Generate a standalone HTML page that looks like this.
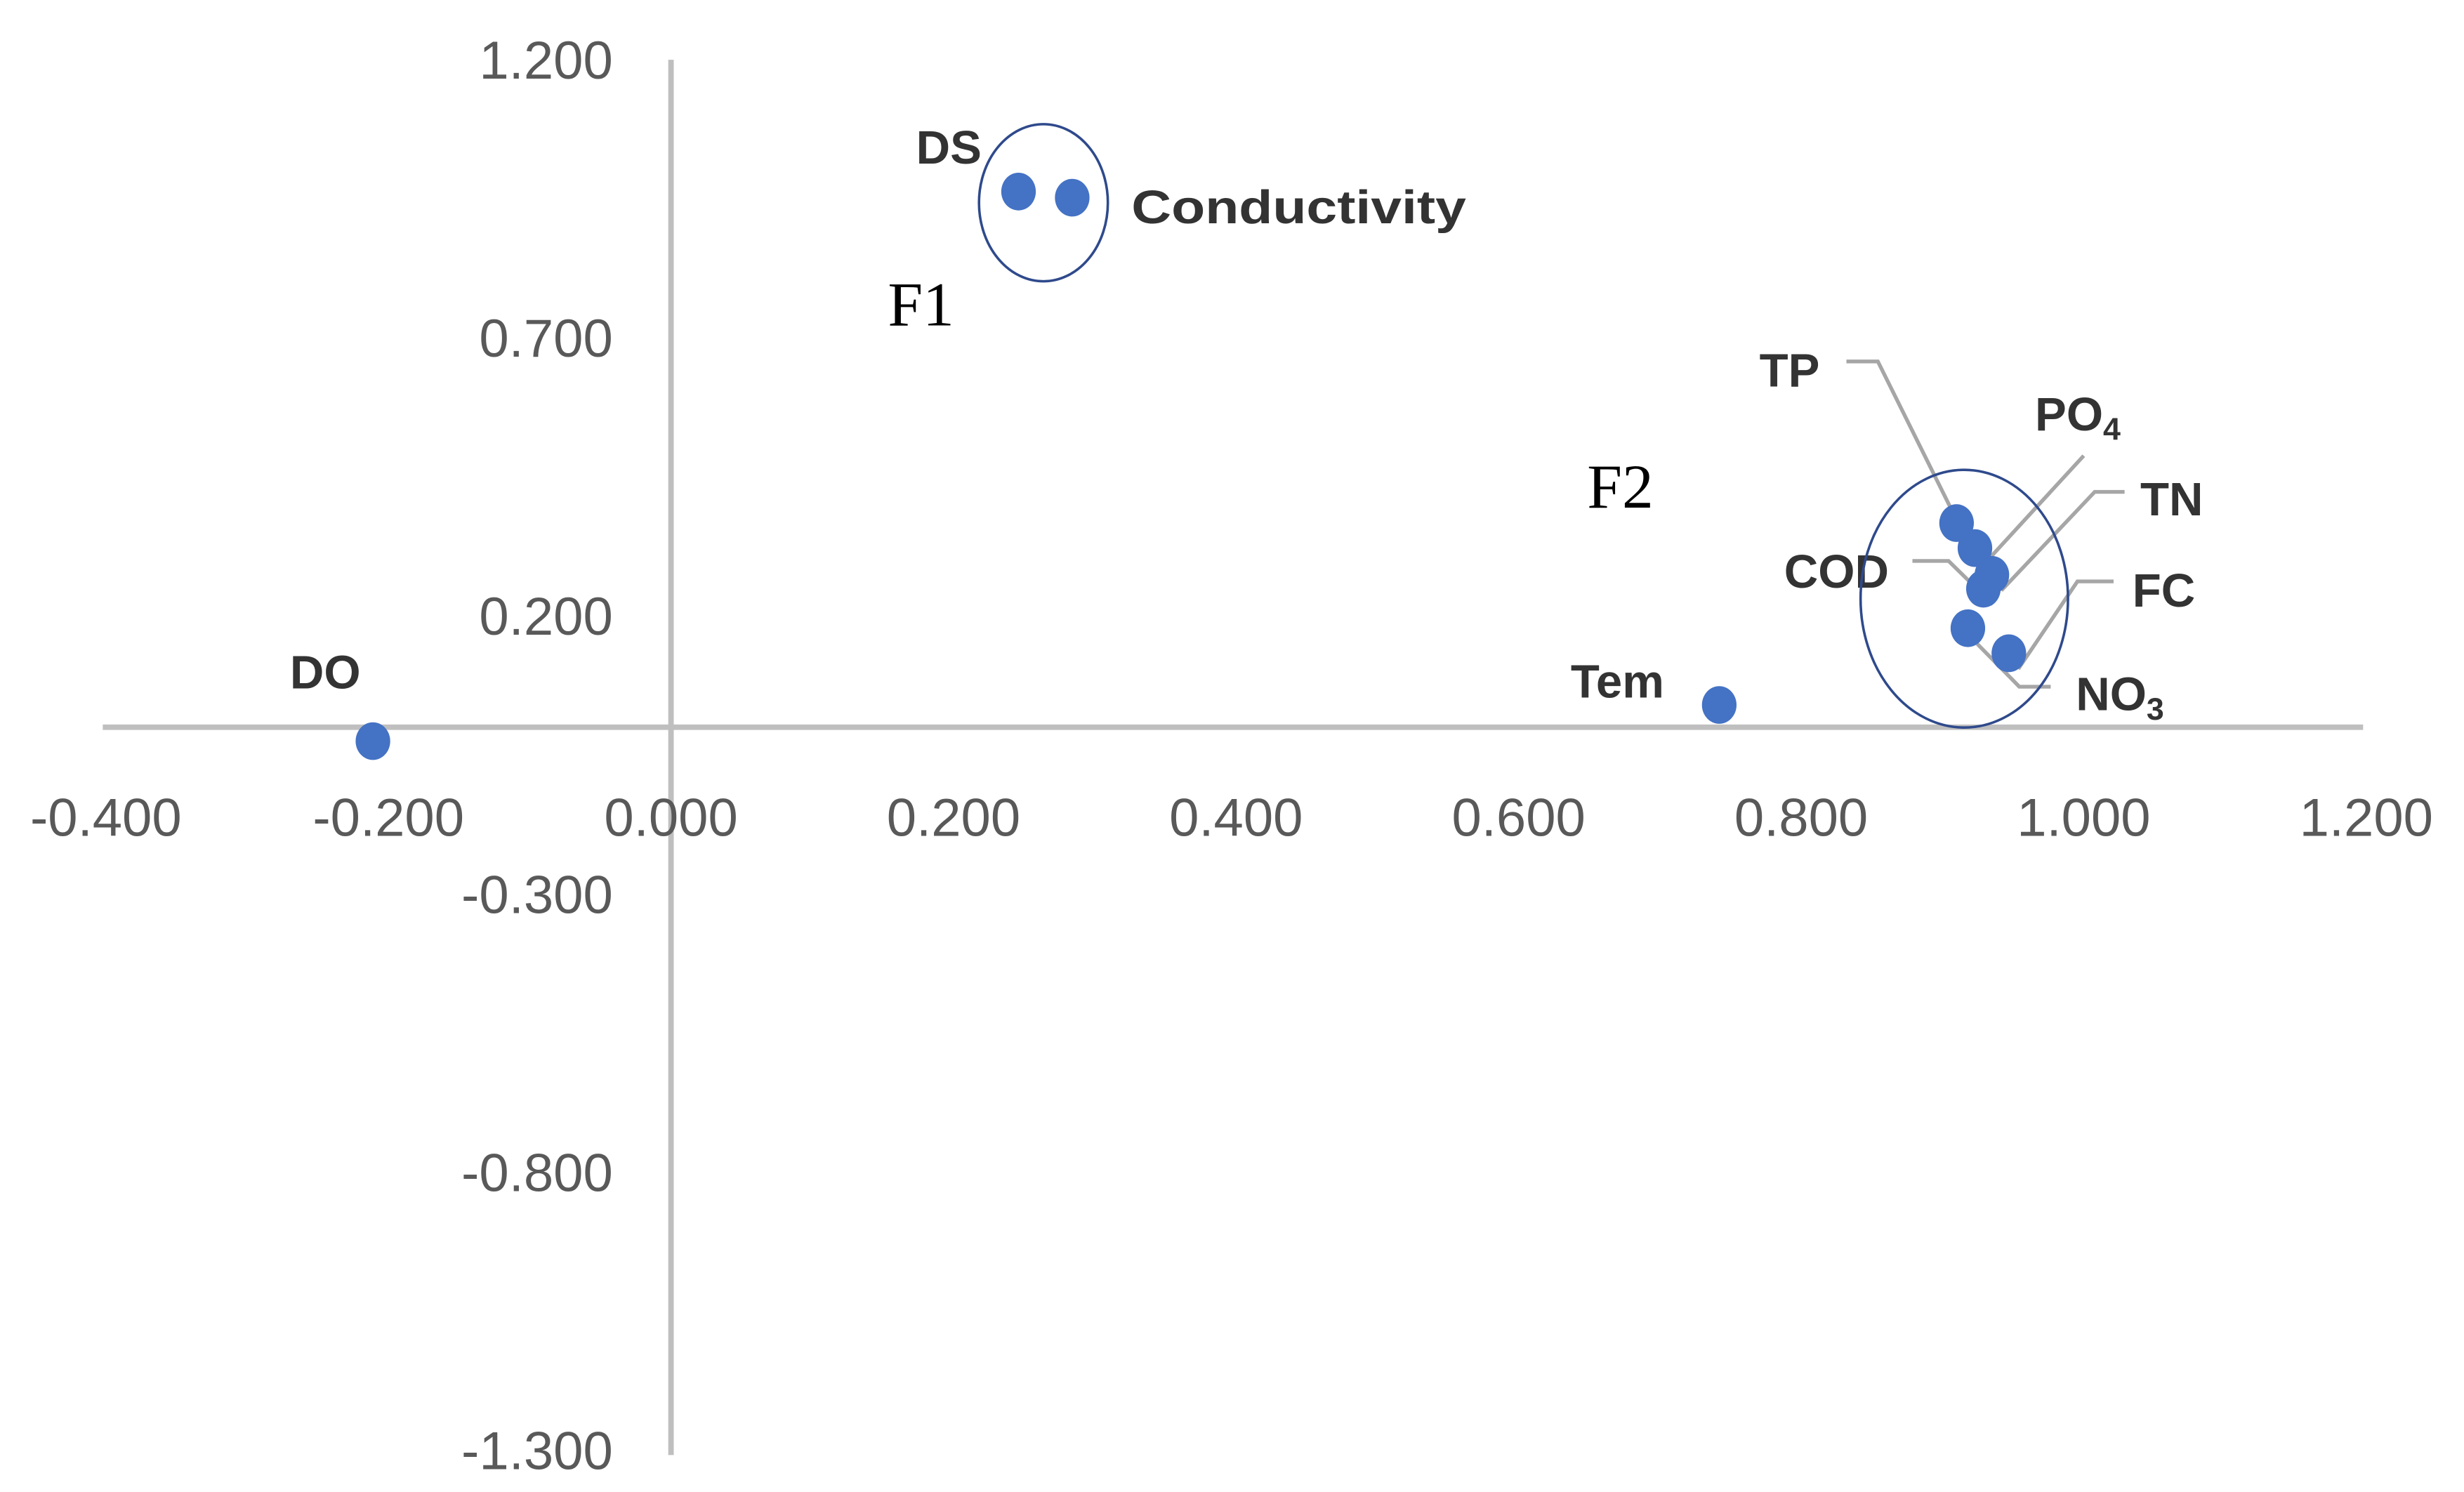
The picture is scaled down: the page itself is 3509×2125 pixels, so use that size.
<!DOCTYPE html>
<html><head><meta charset="utf-8"><style>
html,body{margin:0;padding:0;background:#fff;}
svg{display:block;}
.tick{font-family:"Liberation Sans",sans-serif;font-size:34px;fill:#595959;}
.lab{font-family:"Liberation Sans",sans-serif;font-size:30px;font-weight:bold;fill:#333;}
.fac{font-family:"Liberation Serif",serif;font-size:40px;fill:#000;}
</style></head><body>
<svg id="chart" width="3509" height="2125" viewBox="0 0 1568 949.5" xmlns="http://www.w3.org/2000/svg">
<g id="axes"></g>
<g id="leaders"></g>
<g id="points"></g>
<g id="labels"></g>
<ellipse cx="664" cy="129" rx="41" ry="50" fill="none" stroke="#2f4a8c" stroke-width="1.6"/>
<ellipse cx="1250" cy="381" rx="66" ry="82" fill="none" stroke="#2f4a8c" stroke-width="1.6"/>
<text class="fac" x="565" y="207">F1</text>
<text class="fac" x="1010" y="323">F2</text>
</svg>
<script>
const names=["DS","Conductivity","DO","Tem","TP","PO4","TN","COD","NO3","FC"];
const xVals=[0.246,0.284,-0.211,0.742,0.910,0.923,0.935,0.929,0.918,0.947];
const yVals=[0.963,0.952,-0.025,0.040,0.367,0.322,0.274,0.249,0.178,0.133];
const xTicks=[-0.4,-0.2,0,0.2,0.4,0.6,0.8,1.0,1.2];
const xTickLabels=["-0.400","-0.200","0.000","0.200","0.400","0.600","0.800","1.000","1.200"];
const yTicks=[1.2,0.7,0.2,-0.3,-0.8,-1.3];
const yTickLabels=["1.200","0.700","0.200","-0.300","-0.800","-1.300"];
const NS="http://www.w3.org/2000/svg";
const X=v=>427+v*899;
const Y=v=>462.8-v*354;
function mk(tag,attrs,parent,txt){const e=document.createElementNS(NS,tag);for(const k in attrs)e.setAttribute(k,attrs[k]);if(txt!==undefined)e.textContent=txt;document.getElementById(parent).appendChild(e);return e;}
let ax=mk('line',{x1:X(-0.4)-2,x2:X(1.2)-2,y1:Y(0),y2:Y(0),stroke:'#bfbfbf','stroke-width':3.5},'axes');


let ay=mk('line',{x1:X(0),x2:X(0),y1:Y(1.2),y2:Y(-1.3)+3,stroke:'#bfbfbf','stroke-width':3.5},'axes');


xTicks.forEach((t,i)=>{const e=mk('text',{class:'tick',x:X(t),y:532,'text-anchor':'middle'},'axes',xTickLabels[i]);

});
yTicks.forEach((t,i)=>{const e=mk('text',{class:'tick',x:390,y:Y(t)+12,'text-anchor':'end'},'axes',yTickLabels[i]);

});
const leaders={TP:[[1175,230],[1195,230]],PO4:[[1326,290]],TN:[[1352,313],[1333,313]],COD:[[1217,357],[1240,357]],FC:[[1345,370],[1322,370]],NO3:[[1305,437],[1285,437]]};
for(const n in leaders){const i=names.indexOf(n);const pts=leaders[n].concat([[X(xVals[i])+6,Y(yVals[i])+10]]);
const e=mk('polyline',{points:pts.map(p=>p.join(',')).join(' '),fill:'none',stroke:'#a6a6a6','stroke-width':2.4},'leaders');

}
names.forEach((n,i)=>{const e=mk('ellipse',{cx:X(xVals[i]),cy:Y(yVals[i]),rx:11,ry:12,fill:'#4472c4'},'points');

});
const labs=[["DS",583,104,"start"],["Conductivity",720,142,"start",213],["DO",207,438,"middle"],["Tem",1059,444,"end"],["TP",1158,246,"end"],["PO|4",1295,274,"start"],["TN",1362,328,"start"],["COD",1202,374,"end"],["FC",1357,386,"start"],["NO|3",1321,452,"start"]];
labs.forEach(l=>{const parts=l[0].split('|');const at={class:'lab',x:l[1],y:l[2],'text-anchor':l[3]};if(l[4]){at.textLength=l[4];at.lengthAdjust='spacingAndGlyphs';}
const e=mk('text',at,'labels',parts[0]);
if(parts[1]){const s=document.createElementNS(NS,'tspan');s.setAttribute('font-size','20');s.setAttribute('dy','6');s.textContent=parts[1];e.appendChild(s);}

});
</script>
</body></html>
